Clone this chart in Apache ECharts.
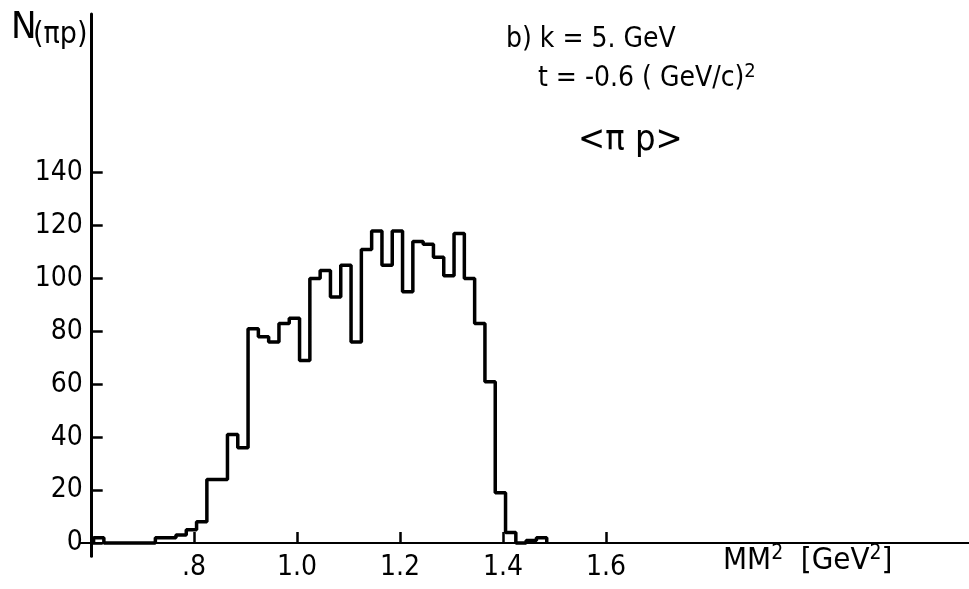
<!DOCTYPE html>
<html><head><meta charset="utf-8">
<script src="https://cdn.jsdelivr.net/npm/echarts@6/dist/echarts.min.js"></script>
<style>html,body{margin:0;padding:0;background:#fff}#c{width:969px;height:589px}</style>
</head><body><div id="c"></div>
<script>
// Histogram bins (left edges, GeV^2) and counts
const binLeftEdges = [0.605,0.625,0.645,0.665,0.685,0.705,0.725,0.745,0.765,0.785,
  0.805,0.825,0.845,0.865,0.885,0.905,0.925,0.945,0.965,0.985,
  1.005,1.025,1.045,1.065,1.085,1.105,1.125,1.145,1.165,1.185,
  1.205,1.225,1.245,1.265,1.285,1.305,1.325,1.345,1.365,1.385,
  1.405,1.425,1.445,1.465];
const lastRightEdge = 1.485;
const counts = [2,0,0,0,0,0,2,2,3,5,
  8,24,24,41,36,81,78,76,83,85,
  69,100,103,93,105,76,111,118,105,118,
  95,114,113,108,101,117,100,83,61,19,
  4,0,1,2];
const xTickValues = [0.8,1.0,1.2,1.4,1.6];
const xTickLabels = ['.8','1.0','1.2','1.4','1.6'];
const yTickValues = [0,20,40,60,80,100,120,140];

const FONT = "'Liberation Sans Narrow','DejaVu Sans Condensed','Roboto Condensed','Liberation Sans',sans-serif";

const histData = [[binLeftEdges[0],0]];
binLeftEdges.forEach((e,i)=>histData.push([e,counts[i]]));
histData.push([lastRightEdge,0]);

const chart = echarts.init(document.getElementById('c'), null, {renderer:'canvas'});
chart.setOption({
  animation:false,
  backgroundColor:'#fff',
  grid:{left:80.7,right:0,top:14,bottom:32.75,containLabel:false},
  xAxis:{
    type:'value', min:0.58, max:2.305,
    axisLine:{show:true,onZero:true,lineStyle:{color:'#000',width:2}},
    axisTick:{show:true,inside:true,length:11,customValues:xTickValues,lineStyle:{color:'#000',width:2.5}},
    axisLabel:{show:true,customValues:xTickValues,margin:-3,color:'#000',fontFamily:FONT,fontSize:28,
      formatter:(v)=>{const i=xTickValues.findIndex(t=>Math.abs(t-v)<1e-6);return i>=0?xTickLabels[i]:'';}},
    splitLine:{show:false}
  },
  yAxis:{
    type:'value', min:-5, max:200, offset:-11,
    axisLine:{show:true,onZero:false,lineStyle:{color:'#000',width:3}},
    axisTick:{show:true,inside:true,length:11,customValues:yTickValues,lineStyle:{color:'#000',width:2.5}},
    axisLabel:{show:true,customValues:yTickValues,margin:9,color:'#000',fontFamily:FONT,fontSize:28},
    splitLine:{show:false}
  },
  series:[{
    type:'line', step:'end', data:histData, showSymbol:false, symbol:'none',
    lineStyle:{color:'#000',width:3.5}, z:5, clip:false
  }],
  graphic:[
    {type:'text',x:11,y:28,style:{text:'N',font:'38px '+FONT,fill:'#000',verticalAlign:'middle'}},
    {type:'text',x:33,y:35,style:{text:'(πp)',font:'30px '+FONT,fill:'#000',verticalAlign:'middle'}},
    {type:'text',x:506,y:40,style:{text:'b) k = 5. GeV',font:'28px '+FONT,fill:'#000',verticalAlign:'middle'}},
    {type:'text',x:538,y:79,style:{text:'t = -0.6 ( GeV/c){s|2}',font:'28px '+FONT,fill:'#000',verticalAlign:'middle',
      rich:{s:{fontSize:20,fontFamily:FONT,verticalAlign:'top',lineHeight:34}}}},
    {type:'text',x:578,y:141,style:{text:'<π p>',font:'36px '+FONT,fill:'#000',verticalAlign:'middle'}},
    {type:'text',x:723,y:561,style:{text:'MM{s|2}  [GeV{s|2}]',font:'31px '+FONT,fill:'#000',verticalAlign:'middle',
      rich:{s:{fontSize:21,fontFamily:FONT,verticalAlign:'top',lineHeight:36}}}}
  ]
});
</script></body></html>
